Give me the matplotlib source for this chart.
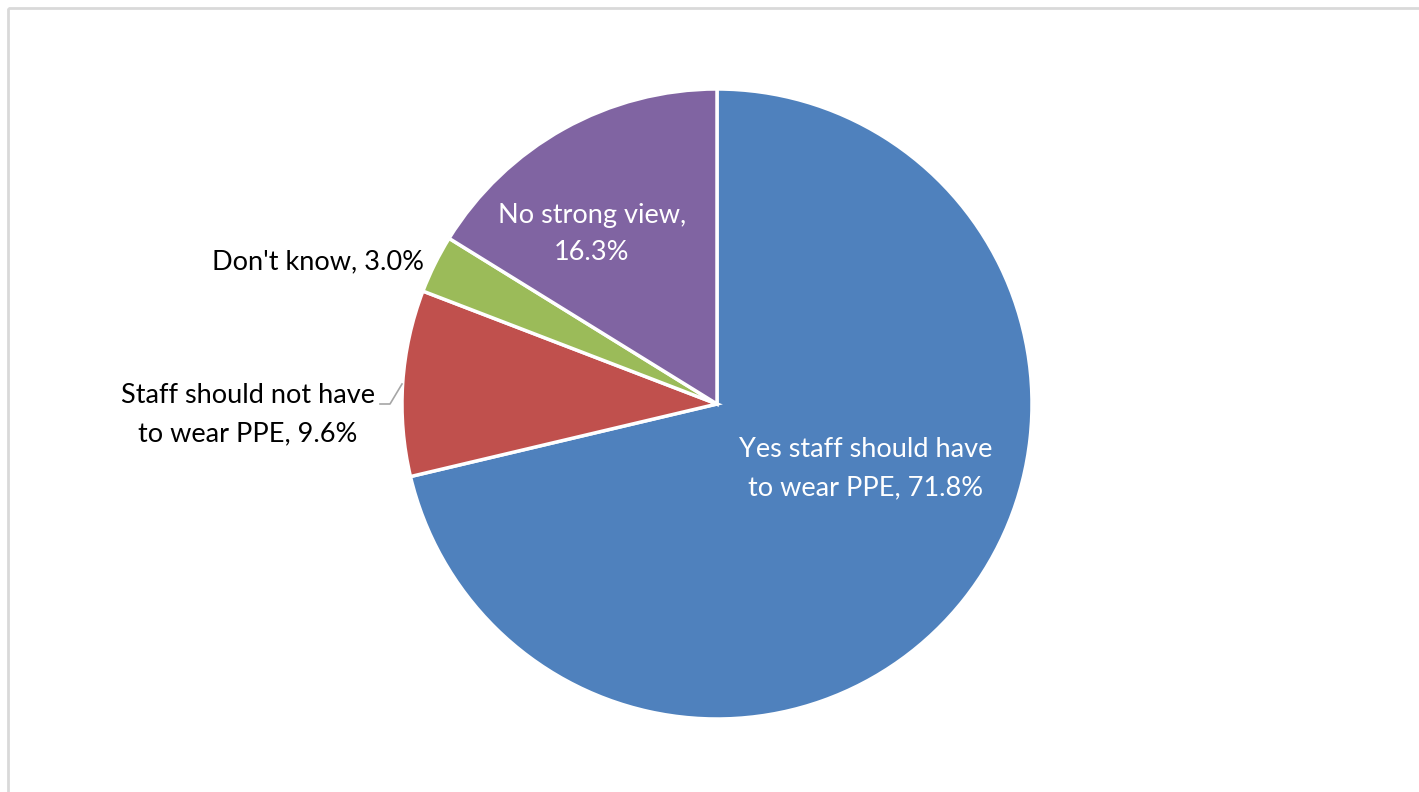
import matplotlib.pyplot as plt
from matplotlib.patches import Rectangle

# survey answers, clockwise from 12 o'clock
categories = ["Yes staff should have\nto wear PPE", "Staff should not have\nto wear PPE",
              "Don't know", "No strong view"]
shares = [71.8, 9.6, 3.0, 16.3]
colors = ["#4F81BD", "#C0504D", "#9BBB59", "#8064A2"]

plt.rcParams['font.family'] = ['Lato', 'DejaVu Sans']

fig = plt.figure(figsize=(14.19, 7.92), dpi=100)
ax = fig.add_axes([0, 0, 1, 1])

# chart area frame (runs off the right and bottom edges)
ax.add_patch(Rectangle((8, 8), 1430, 800, fill=False, edgecolor="#d9d9d9", linewidth=2))

wedges, _ = ax.pie(shares, colors=colors, startangle=-90, counterclock=True,
                   center=(717, 404), radius=315, frame=True,
                   wedgeprops=dict(edgecolor="white", linewidth=2.5))
ax.set_xlim(0, 1419)
ax.set_ylim(792, 0)
ax.set_aspect('equal')
ax.axis('off')

labels = [f"{c}, {v:.1f}%" for c, v in zip(categories, shares)]
labels[3] = f"{categories[3]},\n{shares[3]:.1f}%"
fs = 19.5
ls = 1.68
ax.text(866, 469, labels[0], color="white", fontsize=fs, ha="center", va="center", linespacing=ls)
ax.text(248, 415, labels[1], color="black", fontsize=fs, ha="center", va="center", linespacing=ls)
ax.text(424, 262, labels[2], color="black", fontsize=fs, ha="right", va="center")
ax.text(592, 234, labels[3], color="white", fontsize=fs, ha="center", va="center", linespacing=1.55)

# leader line for the small red slice label
ax.plot([380, 390, 402], [404, 404, 384], color="#a6a6a6", linewidth=1.2)

fig.savefig("out.png", dpi=100)
